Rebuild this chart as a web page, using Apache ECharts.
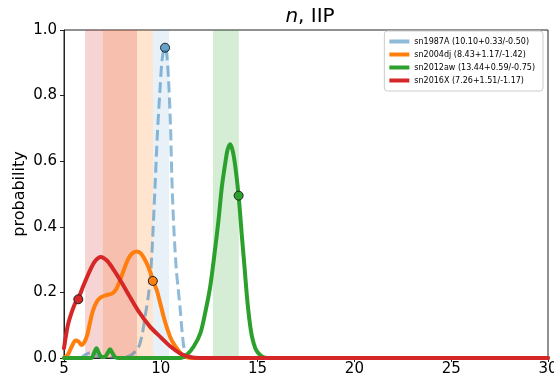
<!DOCTYPE html>
<html>
<head>
<meta charset="utf-8">
<script src="https://cdn.jsdelivr.net/npm/echarts@6/dist/echarts.min.js"></script>
<style>html,body{margin:0;padding:0;background:#fff}#c{width:554px;height:383px}</style>
</head>
<body>
<div id="c"></div>
<script>
// ---- data ----
var names = ['sn1987A (10.10+0.33/-0.50)', 'sn2004dj (8.43+1.17/-1.42)', 'sn2012aw (13.44+0.59/-0.75)', 'sn2016X (7.26+1.51/-1.17)'];
var centers = [10.10, 8.43, 13.44, 7.26];
var errPlus = [0.33, 1.17, 0.59, 1.51];
var errMinus = [0.50, 1.42, 0.75, 1.17];

var sn1987A_x = [5, 5.8, 6.1, 6.35, 6.6, 6.9, 7.5, 8.2, 8.5, 8.75, 8.9, 9.05, 9.2, 9.36, 9.5, 9.6, 9.7, 9.83, 9.95, 10.05, 10.15, 10.22, 10.3, 10.4, 10.5, 10.57, 10.67, 10.8, 10.9, 11.0, 11.1, 11.2, 11.35, 11.6, 30];
var sn1987A_y = [0, 0, 0.01, 0.015, 0.01, 0.003, 0.001, 0.003, 0.01, 0.025, 0.04, 0.075, 0.13, 0.19, 0.28, 0.39, 0.52, 0.69, 0.81, 0.9, 0.94, 0.946, 0.93, 0.85, 0.71, 0.55, 0.4, 0.27, 0.21, 0.15, 0.08, 0.03, 0.005, 0, 0];

var sn2004dj_x = [5.0, 5.2, 5.4, 5.6, 5.75, 5.9, 6.05, 6.2, 6.35, 6.5, 6.7, 6.9, 7.2, 7.5, 7.7, 7.9, 8.1, 8.3, 8.5, 8.75, 8.95, 9.1, 9.3, 9.45, 9.6, 9.8, 10.0, 10.15, 10.3, 10.5, 10.7, 10.9, 11.1, 11.35, 11.6, 30];
var sn2004dj_y = [0.0, 0.01, 0.035, 0.053, 0.05, 0.04, 0.048, 0.07, 0.11, 0.145, 0.172, 0.185, 0.192, 0.197, 0.21, 0.238, 0.27, 0.3, 0.318, 0.325, 0.32, 0.308, 0.285, 0.263, 0.236, 0.205, 0.16, 0.125, 0.095, 0.062, 0.04, 0.024, 0.01, 0.002, 0, 0];

var sn2012aw_x = [5, 6.4, 6.55, 6.68, 6.8, 6.95, 7.1, 7.25, 7.38, 7.5, 7.65, 7.8, 11.0, 11.35, 11.7, 12.04, 12.3, 12.55, 12.8, 12.98, 13.15, 13.33, 13.45, 13.59, 13.72, 13.85, 14.02, 14.19, 14.32, 14.45, 14.58, 14.71, 14.88, 15.05, 15.25, 15.5, 30];
var sn2012aw_y = [0, 0, 0.015, 0.03, 0.015, 0.003, 0.003, 0.015, 0.027, 0.015, 0.002, 0, 0, 0.01, 0.035, 0.075, 0.14, 0.217, 0.33, 0.42, 0.52, 0.594, 0.635, 0.652, 0.63, 0.583, 0.494, 0.37, 0.28, 0.187, 0.115, 0.065, 0.03, 0.014, 0.004, 0, 0];

var sn2016X_x = [5.0, 5.2, 5.4, 5.6, 5.8, 6.0, 6.35, 6.6, 6.9, 7.2, 7.5, 7.9, 8.4, 8.9, 9.45, 10.0, 10.5, 11.0, 11.5, 12.0, 30];
var sn2016X_y = [0.03, 0.1, 0.14, 0.17, 0.19, 0.22, 0.268, 0.295, 0.308, 0.298, 0.275, 0.238, 0.187, 0.138, 0.095, 0.063, 0.035, 0.014, 0.003, 0, 0];

var marker_x = [10.22, 9.59, 14.02, 5.74];
var marker_y = [0.946, 0.235, 0.495, 0.179];

var xTicks = [5, 10, 15, 20, 25, 30];
var yTicks = [0.0, 0.2, 0.4, 0.6, 0.8, 1.0];

// ---- styling ----
var colors = ['rgba(31,119,180,0.5)', '#ff7f0e', '#2ca02c', '#d62728'];
var bandColors = ['rgba(31,119,180,0.1)', 'rgba(255,127,14,0.2)', 'rgba(44,160,44,0.2)', 'rgba(214,39,40,0.2)'];
var markerColors = ['rgba(31,119,180,0.65)', '#ff7f0e', '#2ca02c', '#d62728'];

function zip(xs, ys) { return xs.map(function (x, i) { return [x, ys[i]]; }); }
var curves = [zip(sn1987A_x, sn1987A_y), zip(sn2004dj_x, sn2004dj_y), zip(sn2012aw_x, sn2012aw_y), zip(sn2016X_x, sn2016X_y)];

var F = 'DejaVu Sans';
var series = [];
series.push({
  type: 'line', name: '_bands', data: [], silent: true, z: 1,
  markArea: {
    silent: true,
    data: centers.map(function (c, i) {
      return [{ xAxis: c - errMinus[i], itemStyle: { color: bandColors[i] } }, { xAxis: c + errPlus[i] }];
    })
  }
});
curves.forEach(function (d, i) {
  series.push({
    type: 'line', name: names[i], data: d, smooth: 0.3, showSymbol: false, z: 3 + i,
    color: colors[i],
    lineStyle: i === 0 ? { width: 3, type: [11, 5], color: colors[i], cap: 'butt' } : { width: 4, color: colors[i], cap: 'round', join: 'round' },
    clip: true, silent: true
  });
});
marker_x.forEach(function (x, i) {
  series.push({
    type: 'scatter', name: '_m' + i, data: [[x, marker_y[i]]], symbol: 'circle', symbolSize: 9, z: 10,
    itemStyle: { color: markerColors[i], borderColor: '#222', borderWidth: 1, opacity: 1 }, silent: true
  });
});

var chart = echarts.init(document.getElementById('c'), null, { renderer: 'canvas' });
chart.setOption({
  animation: false,
  backgroundColor: '#fff',
  title: {
    text: '{i|n}, IIP', left: 305, top: 2, textAlign: 'center',
    textStyle: { fontFamily: F, fontSize: 20, fontWeight: 'normal', color: '#000',
      rich: { i: { fontFamily: F, fontSize: 20, fontStyle: 'italic', color: '#000' } } }
  },
  grid: { left: 64, right: 6, top: 30, bottom: 25, show: true, borderColor: '#222', borderWidth: 1, backgroundColor: 'transparent', outerBoundsMode: 'none' },
  legend: {
    orient: 'vertical', right: 11, top: 31,
    data: names.map(function (n, i) { return { name: n, icon: 'rect', itemStyle: { color: colors[i] } }; }),
    itemWidth: 20, itemHeight: 4, itemGap: 4,
    padding: [6, 8, 6, 5],
    borderColor: '#ccc', borderWidth: 1, borderRadius: 3, backgroundColor: 'rgba(255,255,255,0.8)',
    textStyle: { fontFamily: F, fontSize: 8, color: '#000', lineHeight: 9 },
    selectedMode: false
  },
  xAxis: {
    type: 'value', min: xTicks[0], max: xTicks[xTicks.length - 1], interval: 5,
    axisLine: { show: true, onZero: false, lineStyle: { color: '#222', width: 1 } },
    axisTick: { show: true, length: 4, lineStyle: { color: '#222' } },
    axisLabel: { fontFamily: F, fontSize: 15, color: '#000', margin: 4, showMaxLabel: true, showMinLabel: true },
    splitLine: { show: false }
  },
  yAxis: {
    type: 'value', min: yTicks[0], max: yTicks[yTicks.length - 1], interval: 0.2,
    name: 'probability', nameLocation: 'middle', nameGap: 36, nameMoveOverlap: false,
    nameTextStyle: { fontFamily: F, fontSize: 16, color: '#000' },
    axisLine: { show: true, lineStyle: { color: '#222', width: 1 } },
    axisTick: { show: true, length: 4, lineStyle: { color: '#222' } },
    axisLabel: { fontFamily: F, fontSize: 15, color: '#000', margin: 7, formatter: function (v) { return v.toFixed(1); } },
    splitLine: { show: false }
  },
  series: series
});
</script>
</body>
</html>
